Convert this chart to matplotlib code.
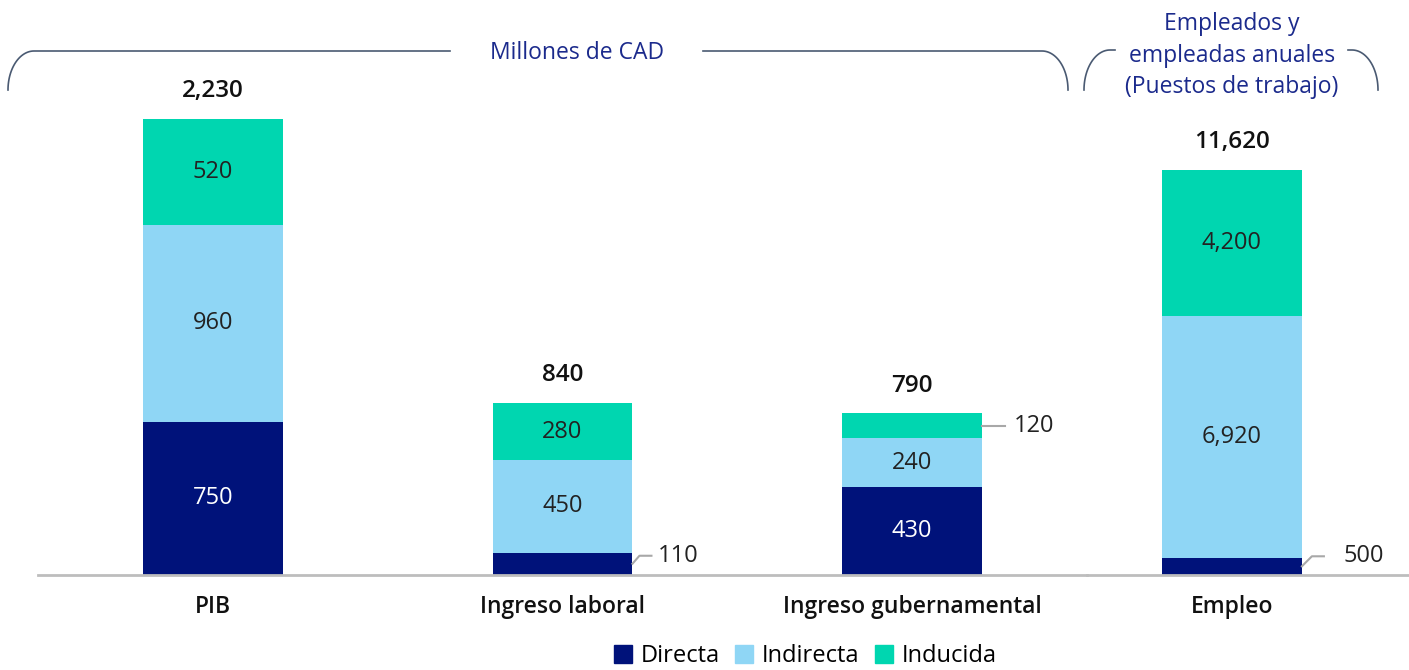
import numpy as np
import matplotlib.pyplot as plt
from matplotlib.lines import Line2D

plt.rcParams['font.family'] = ['Open Sans', 'DejaVu Sans']

# datos
categorias = ['PIB', 'Ingreso laboral', 'Ingreso gubernamental']
directa = [750, 110, 430]
indirecta = [960, 450, 240]
inducida = [520, 280, 120]
totales = ['2,230', '840', '790']

cat_empleo = 'Empleo'
emp_directa = 500
emp_indirecta = 6920
emp_inducida = 4200
emp_total = '11,620'

series = ['Directa', 'Indirecta', 'Inducida']
colores = ['#00127a', '#8fd6f5', '#00d6b0']
azul_txt = '#1b2a8c'

W, H = 1409, 670
fig = plt.figure(figsize=(W / 100, H / 100), dpi=100)

base = 575
ax1 = fig.add_axes([38 / W, (H - base) / H, (1087 - 38) / W, base / H])
ax2 = fig.add_axes([1087 / W, (H - base) / H, (W - 1087) / W, base / H])
for ax in (ax1, ax2):
    ax.axis('off')

ax1.set_xlim(-0.5, 2.5)
ax1.set_ylim(0, base / 0.20448)
ax2.set_xlim(-145 / 349.5, 177 / 349.5)
ax2.set_ylim(0, base / 0.034854)

ancho = 0.4
x = np.arange(len(categorias))
fs_in = 17


def etiqueta(ax, xc, y, val, col):
    c = 'white' if col == colores[0] else '#222222'
    ax.text(xc, y, f'{val:,}', ha='center', va='center', fontsize=fs_in, color=c)


def pila(ax, xs, d, i, n, tot):
    d, i, n = np.atleast_1d(d), np.atleast_1d(i), np.atleast_1d(n)
    ax.bar(xs, d, ancho, color=colores[0])
    ax.bar(xs, i, ancho, bottom=d, color=colores[1])
    ax.bar(xs, n, ancho, bottom=d + i, color=colores[2])
    for k, xc in enumerate(np.atleast_1d(xs)):
        top = d[k] + i[k] + n[k]
        ax.annotate(tot[k], (xc, top), xytext=(0, 20), textcoords='offset points',
                    ha='center', va='center', fontsize=17.5, fontweight='semibold', color='#111111')


pila(ax1, x, directa, indirecta, inducida, totales)
pila(ax2, [0], emp_directa, emp_indirecta, emp_inducida, [emp_total])

# etiquetas internas
for k in range(3):
    if directa[k] > 200:
        etiqueta(ax1, x[k], directa[k] / 2, directa[k], colores[0])
    etiqueta(ax1, x[k], directa[k] + indirecta[k] / 2, indirecta[k], colores[1])
    if inducida[k] > 200:
        etiqueta(ax1, x[k], directa[k] + indirecta[k] + inducida[k] / 2, inducida[k], colores[2])
etiqueta(ax2, 0, emp_directa + emp_indirecta / 2, emp_indirecta, colores[1])
etiqueta(ax2, 0, emp_directa + emp_indirecta + emp_inducida / 2, emp_inducida, colores[2])

gris = '#a8a8a8'
# 110 (Ingreso laboral, directa)
xr = x[1] + ancho / 2
y0 = directa[1] / 2
ax1.plot([xr, xr + 7 / 349.5, xr + 19 / 349.5], [y0, y0 + 8 / 0.20448, y0 + 8 / 0.20448],
         color=gris, lw=1.5, clip_on=False)
ax1.text(xr + 25 / 349.5, y0 + 8 / 0.20448, f'{directa[1]:,}', va='center', fontsize=fs_in, color='#222222')
# 120 (Ingreso gubernamental, inducida)
xr = x[2] + ancho / 2
y0 = directa[2] + indirecta[2] + inducida[2] / 2
ax1.plot([xr, xr + 23 / 349.5], [y0, y0], color=gris, lw=1.5, clip_on=False)
ax1.text(xr + 32 / 349.5, y0, f'{inducida[2]:,}', va='center', fontsize=fs_in, color='#222222')
# 500 (Empleo, directa)
xr = ancho / 2
y0 = emp_directa / 2
ax2.plot([xr, xr + 10 / 349.5, xr + 22 / 349.5], [y0, y0 + 10 / 0.034854, y0 + 10 / 0.034854],
         color=gris, lw=1.5, clip_on=False)
ax2.text(xr + 42 / 349.5, y0 + 10 / 0.034854, f'{emp_directa:,}', va='center', fontsize=fs_in, color='#222222')

# eje base y categorias
for ax in (ax1, ax2):
    ax.axhline(0, color='#bdbdbd', lw=2, clip_on=False)
for k, c in enumerate(categorias):
    ax1.text(x[k], -32 / 0.20448, c, ha='center', va='center', fontsize=16.5, fontweight='semibold', color='#111111')
ax2.text(0, -32 / 0.034854, cat_empleo, ha='center', va='center', fontsize=16.5, fontweight='semibold', color='#111111')

# llaves y encabezados (capa en pixeles)
ov = fig.add_axes([0, 0, 1, 1], zorder=-1)
ov.set_xlim(0, W)
ov.set_ylim(H, 0)
ov.axis('off')
llave = '#4a5a72'
t = np.linspace(0, np.pi / 2, 40)


def esquina(x0, y0, rx, ry, lado):
    # lado=-1 curva a la izquierda, +1 a la derecha
    cx = x0 - lado * rx
    xs = cx + lado * rx * np.cos(t)
    ys = y0 - ry * np.sin(t)
    return xs, ys


xs, ys = esquina(8, 90, 26, 39, -1)
ov.plot(np.r_[xs, 450], np.r_[ys, 51], color=llave, lw=1.2)
xs, ys = esquina(1068, 90, 26, 39, 1)
ov.plot(np.r_[xs, 703], np.r_[ys, 51], color=llave, lw=1.2)
xs, ys = esquina(1084, 90, 26, 40, -1)
ov.plot(np.r_[xs, 1115], np.r_[ys, 50], color=llave, lw=1.2)
xs, ys = esquina(1378, 90, 26, 40, 1)
ov.plot(np.r_[xs, 1348], np.r_[ys, 50], color=llave, lw=1.2)

ov.text(577, 53, 'Millones de CAD', ha='center', va='center', fontsize=16.5, color=azul_txt)
for txt, yy in zip(['Empleados y', 'empleadas anuales', '(Puestos de trabajo)'], [24, 56, 87]):
    ov.text(1232, yy, txt, ha='center', va='center', fontsize=16.5, color=azul_txt)

# leyenda
hs = [Line2D([], [], marker='s', ls='', markersize=13, color=c) for c in colores]
fig.legend(hs, series, loc='center', bbox_to_anchor=(0.5705, (H - 656) / H), ncol=3, frameon=False,
           fontsize=17, handletextpad=0.25, columnspacing=0.55, handlelength=1.0)

fig.savefig('out.png', dpi=100)
